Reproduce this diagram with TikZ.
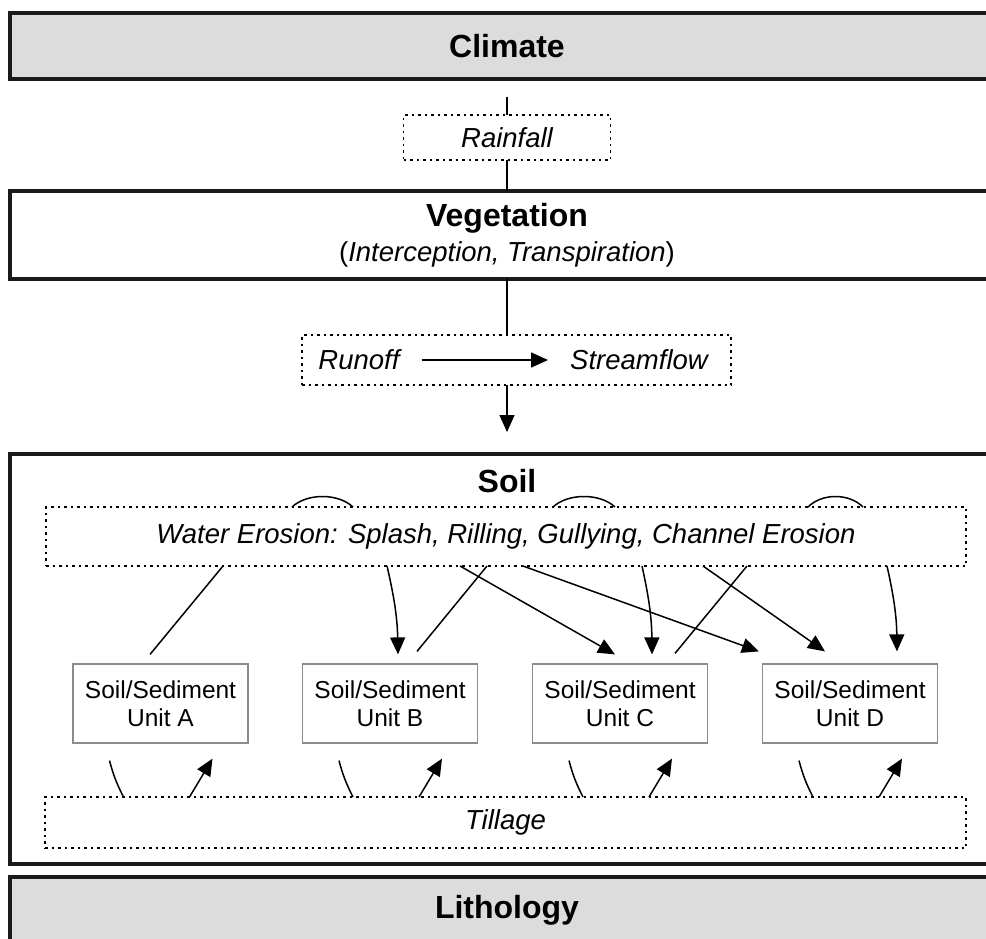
\documentclass[tikz,border=0pt]{standalone}
\usepackage{fontspec}
\setmainfont{Liberation Sans}
\usetikzlibrary{arrows.meta}
\definecolor{boxgray}{HTML}{DCDCDC}
\definecolor{edgecol}{HTML}{1A1A1A}
\definecolor{unitedge}{HTML}{8C8C8C}
\tikzset{
 layer/.style={draw=edgecol, line width=3.5pt, minimum width=994pt, inner sep=0pt, outer sep=0pt},
 graylayer/.style={layer, fill=boxgray},
 proc/.style={draw=black, line width=1.3pt, dash pattern=on 2.5pt off 4pt, inner sep=0pt, outer sep=0pt},
 unitbox/.style={draw=unitedge, line width=1.2pt, minimum width=175pt, minimum height=79pt, inner sep=0pt, align=center, font=\fontsize{24.5}{28}\selectfont},
 conn/.style={line width=1.5pt},
 arr/.style={conn, -{Triangle[length=17pt,width=15pt]}},
 title/.style={font=\fontsize{32}{36}\selectfont\bfseries, inner sep=0pt},
 lbl/.style={font=\fontsize{27.5}{32}\selectfont\itshape, inner sep=0pt},
}
\begin{document}
\begin{tikzpicture}[x=1pt,y=-1pt]
\clip (0,0) rectangle (986,938);
\fill[white] (0,0) rectangle (986,938);

% layers
\node[graylayer, minimum height=66pt, title] (climate) at (507,46) {Climate};
\node[layer, minimum height=88pt, fill=white] (veg) at (507,235) {};
\node[title] (vegtitle) at (507,218) {Vegetation};
\node[font=\fontsize{27.5}{32}\selectfont, inner sep=0pt] (vegsub) at (507,254) {(\textit{Interception, Transpiration})};
\node[layer, minimum height=410pt, fill=white] (soil) at (507,659) {};
\node[title] (soiltitle) at (507,481) {Soil};
\node[graylayer, minimum height=66pt, title] (litho) at (507,910) {Lithology};

% rainfall
\coordinate (raintop) at (507,97);
\node[proc, minimum width=207pt, minimum height=45pt, lbl] (rain) at (507,137.5) {Rainfall};
\draw[conn] (raintop) -- (rain.north);
\draw[conn] (rain.south) -- (rain.south |- veg.north);

% runoff / streamflow
\node[proc, minimum width=429pt, minimum height=50pt] (flow) at (516.5,360) {};
\node[lbl] (runoff) at (359,360) {Runoff};
\node[lbl] (stream) at (639,360) {Streamflow};
\draw[arr, shorten <=22pt, shorten >=22pt] (runoff.east) -- (stream.west);
\draw[conn] (veg.south) -- (veg.south |- flow.north);
\coordinate (soilin) at (507,432);
\draw[arr] (veg.south |- flow.south) -- (soilin);

% erosion
\node[proc, minimum width=920pt, minimum height=59pt, lbl] (eros) at (506,536.5) {Water Erosion: Splash, Rilling, Gullying, Channel Erosion};
\draw[conn] ([xshift=246pt]eros.north west) .. controls +(15,-14) and +(-15,-14) .. ([xshift=307pt]eros.north west);
\draw[conn] ([xshift=507pt]eros.north west) .. controls +(15,-14) and +(-15,-14) .. ([xshift=569pt]eros.north west);
\draw[conn] ([xshift=762pt]eros.north west) .. controls +(14,-14) and +(-14,-14) .. ([xshift=817pt]eros.north west);

% units
\node[unitbox] (ua) at (160.5,703.5) {Soil/Sediment\\Unit A};
\node[unitbox] (ub) at (390,703.5) {Soil/Sediment\\Unit B};
\node[unitbox] (uc) at (620,703.5) {Soil/Sediment\\Unit C};
\node[unitbox] (ud) at (850,703.5) {Soil/Sediment\\Unit D};

% erosion <-> units
\draw[conn] ([xshift=-10.5pt,yshift=9pt]ua.north) -- ([xshift=177pt]eros.south west);
\draw[arr] ([xshift=341pt]eros.south west) to[bend left=6] ([xshift=8pt,yshift=9pt]ub.north);
\draw[conn] ([xshift=27pt,yshift=12pt]ub.north) -- ([xshift=441pt]eros.south west);
\draw[arr] ([xshift=414pt]eros.south west) -- ([xshift=-5pt,yshift=9pt]uc.north);
\draw[arr] ([xshift=477pt]eros.south west) -- ([xshift=-3pt,yshift=12pt]ud.north west);
\draw[arr] ([xshift=596pt]eros.south west) to[bend left=6] ([xshift=32pt,yshift=9pt]uc.north);
\draw[arr] ([xshift=657pt]eros.south west) -- ([xshift=-25pt,yshift=12pt]ud.north);
\draw[conn] ([xshift=55pt,yshift=10pt]uc.north) -- ([xshift=701pt]eros.south west);
\draw[arr] ([xshift=841pt]eros.south west) to[bend left=6] ([xshift=47pt,yshift=12pt]ud.north);

% tillage
\node[proc, minimum width=921pt, minimum height=51pt, lbl] (till) at (505.5,822.5) {Tillage};
\foreach \u in {ua,ub,uc,ud}{
  \draw[conn] ([xshift=-51pt,yshift=-17pt]\u.south) to[bend right=6] ([xshift=-37pt]\u.south |- till.north);
  \draw[arr] ([xshift=29pt]\u.south |- till.north) -- ([xshift=52pt,yshift=-15pt]\u.south);
}
\end{tikzpicture}
\end{document}
